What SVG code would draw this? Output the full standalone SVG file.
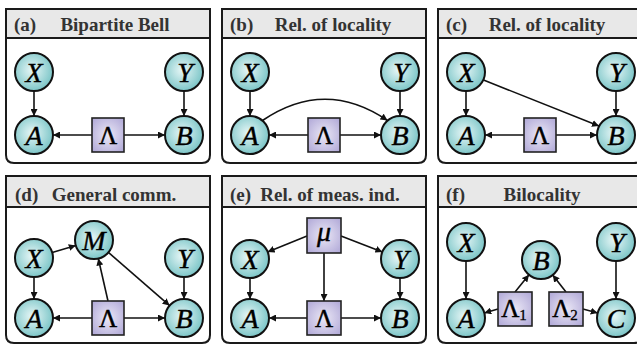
<svg xmlns="http://www.w3.org/2000/svg" width="637" height="345" viewBox="0 0 637 345">
<defs>
<radialGradient id="gc" cx="0.45" cy="0.45" r="0.6">
<stop offset="0" stop-color="#e8f7f7"/>
<stop offset="1" stop-color="#74c2c4"/>
</radialGradient>
<radialGradient id="gb" cx="0.5" cy="0.5" r="0.7">
<stop offset="0" stop-color="#ebe8f6"/>
<stop offset="1" stop-color="#aea6d6"/>
</radialGradient>
<marker id="ah" viewBox="0 0 10 10" refX="10" refY="5" markerWidth="7" markerHeight="7" markerUnits="userSpaceOnUse" orient="auto">
<path d="M0,0 L10,5 L0,10 z" fill="#111"/>
</marker>
</defs>
<style>
.panel{fill:#fff;stroke:#1a1a1a;stroke-width:2}
.hdr{fill:#e8e8e8;stroke:#1a1a1a;stroke-width:2}
.lab{font-family:"Liberation Serif",serif;font-weight:bold;font-size:19px;fill:#333}
.ttl{font-family:"Liberation Serif",serif;font-weight:bold;font-size:19px;fill:#333;text-anchor:middle}
.n circle{fill:url(#gc);stroke:#111;stroke-width:2}
.n rect{fill:url(#gb);stroke:#222;stroke-width:1.6}
.v{font-family:"Liberation Serif",serif;font-style:italic;font-size:28px;fill:#000;stroke:#000;stroke-width:0.4;text-anchor:middle}
.g{font-family:"Liberation Serif",serif;font-size:25px;fill:#000;stroke:#000;stroke-width:0.5;text-anchor:middle}
.e line,.e path{stroke:#111;stroke-width:1.6;fill:none;marker-end:url(#ah)}
</style>

<!-- Panels -->
<g id="panel-a">
<path class="panel" d="M6,9 H210 V155 Q210,163 202,163 H14 Q6,163 6,155 Z"/>
<rect class="hdr" x="6" y="9" width="204" height="29"/>
<text class="lab" x="14" y="31">(a)</text>
<text class="ttl" x="115" y="31">Bipartite Bell</text>
</g>
<g id="panel-b">
<path class="panel" d="M222,9 H426 V155 Q426,163 418,163 H230 Q222,163 222,155 Z"/>
<rect class="hdr" x="222" y="9" width="204" height="29"/>
<text class="lab" x="230" y="31">(b)</text>
<text class="ttl" x="333" y="31">Rel. of locality</text>
</g>
<g id="panel-c">
<path class="panel" d="M438,9 H642 V155 Q642,163 634,163 H446 Q438,163 438,155 Z"/>
<rect class="hdr" x="438" y="9" width="204" height="29"/>
<text class="lab" x="446" y="31">(c)</text>
<text class="ttl" x="547" y="31">Rel. of locality</text>
</g>
<g id="panel-d">
<path class="panel" d="M6,176 H210 V335 Q210,343 202,343 H14 Q6,343 6,335 Z"/>
<rect class="hdr" x="6" y="176" width="204" height="31"/>
<text class="lab" x="15" y="201">(d)</text>
<text class="ttl" x="114" y="201">General comm.</text>
</g>
<g id="panel-e">
<path class="panel" d="M222,176 H426 V335 Q426,343 418,343 H230 Q222,343 222,335 Z"/>
<rect class="hdr" x="222" y="176" width="204" height="31"/>
<text class="lab" x="230" y="201">(e)</text>
<text class="ttl" x="330" y="201">Rel. of meas. ind.</text>
</g>
<g id="panel-f">
<path class="panel" d="M438,176 H642 V335 Q642,343 634,343 H446 Q438,343 438,335 Z"/>
<rect class="hdr" x="438" y="176" width="204" height="31"/>
<text class="lab" x="446" y="201">(f)</text>
<text class="ttl" x="542" y="201">Bilocality</text>
</g>

<!-- Connectors -->
<g id="connectors" class="e">
<!-- a -->
<line x1="34" y1="91" x2="34" y2="116"/>
<line x1="184" y1="91" x2="184" y2="116"/>
<line x1="92" y1="135" x2="53" y2="135"/>
<line x1="124" y1="135" x2="165" y2="135"/>
<!-- b -->
<line x1="250" y1="91" x2="250" y2="116"/>
<line x1="400" y1="91" x2="400" y2="116"/>
<line x1="308" y1="135" x2="269" y2="135"/>
<line x1="340" y1="135" x2="381" y2="135"/>
<path d="M262.5,120.5 Q325,78 387.5,120.5"/>
<!-- c -->
<line x1="466" y1="91" x2="466" y2="116"/>
<line x1="616" y1="91" x2="616" y2="116"/>
<line x1="524" y1="135" x2="485" y2="135"/>
<line x1="556" y1="135" x2="597" y2="135"/>
<line x1="483.5" y1="80" x2="599" y2="126"/>
<!-- d -->
<line x1="34" y1="277" x2="34" y2="299"/>
<line x1="184" y1="277" x2="184" y2="299"/>
<line x1="92" y1="318" x2="53" y2="318"/>
<line x1="124" y1="318" x2="165" y2="318"/>
<line x1="52.2" y1="252.5" x2="75.8" y2="245.5"/>
<line x1="108" y1="301" x2="98.3" y2="258.5"/>
<line x1="108.4" y1="252.4" x2="169.6" y2="305.6"/>
<!-- e -->
<line x1="250" y1="278" x2="250" y2="299"/>
<line x1="400" y1="278" x2="400" y2="299"/>
<line x1="307" y1="318" x2="269" y2="318"/>
<line x1="341" y1="318" x2="381" y2="318"/>
<line x1="307" y1="236" x2="267.6" y2="251.9"/>
<line x1="341" y1="236" x2="382.4" y2="251.9"/>
<line x1="324" y1="253" x2="324" y2="301"/>
<!-- f -->
<line x1="466" y1="261" x2="466" y2="299"/>
<line x1="616" y1="261" x2="616" y2="299"/>
<line x1="515" y1="292" x2="529" y2="274.8"/>
<line x1="566" y1="292" x2="552.7" y2="275"/>
<line x1="498" y1="309" x2="484.3" y2="312.9"/>
<line x1="583" y1="309" x2="597.7" y2="313"/>
</g>

<!-- Nodes (a) -->
<g id="a-X" class="n"><circle cx="34" cy="72" r="19"/><text class="v" x="34" y="81.5">X</text></g>
<g id="a-Y" class="n"><circle cx="184" cy="72" r="19"/><text class="v" x="185" y="81.5">Y</text></g>
<g id="a-A" class="n"><circle cx="34" cy="135" r="19"/><text class="v" x="34" y="144.5">A</text></g>
<g id="a-B" class="n"><circle cx="184" cy="135" r="19"/><text class="v" x="184" y="144.5">B</text></g>
<g id="a-L" class="n"><rect x="92" y="118" width="32" height="34"/><text class="g" x="108" y="144">Λ</text></g>
<!-- (b) -->
<g id="b-X" class="n"><circle cx="250" cy="72" r="19"/><text class="v" x="250" y="81.5">X</text></g>
<g id="b-Y" class="n"><circle cx="400" cy="72" r="19"/><text class="v" x="401" y="81.5">Y</text></g>
<g id="b-A" class="n"><circle cx="250" cy="135" r="19"/><text class="v" x="250" y="144.5">A</text></g>
<g id="b-B" class="n"><circle cx="400" cy="135" r="19"/><text class="v" x="400" y="144.5">B</text></g>
<g id="b-L" class="n"><rect x="308" y="118" width="32" height="34"/><text class="g" x="324" y="144">Λ</text></g>
<!-- (c) -->
<g id="c-X" class="n"><circle cx="466" cy="72" r="19"/><text class="v" x="466" y="81.5">X</text></g>
<g id="c-Y" class="n"><circle cx="616" cy="72" r="19"/><text class="v" x="617" y="81.5">Y</text></g>
<g id="c-A" class="n"><circle cx="466" cy="135" r="19"/><text class="v" x="466" y="144.5">A</text></g>
<g id="c-B" class="n"><circle cx="616" cy="135" r="19"/><text class="v" x="616" y="144.5">B</text></g>
<g id="c-L" class="n"><rect x="524" y="118" width="32" height="34"/><text class="g" x="540" y="144">Λ</text></g>
<!-- (d) -->
<g id="d-X" class="n"><circle cx="34" cy="258" r="19"/><text class="v" x="34" y="267.5">X</text></g>
<g id="d-M" class="n"><circle cx="94" cy="240" r="19"/><text class="v" x="94" y="249.5">M</text></g>
<g id="d-Y" class="n"><circle cx="184" cy="258" r="19"/><text class="v" x="185" y="267.5">Y</text></g>
<g id="d-A" class="n"><circle cx="34" cy="318" r="19"/><text class="v" x="34" y="327.5">A</text></g>
<g id="d-B" class="n"><circle cx="184" cy="318" r="19"/><text class="v" x="184" y="327.5">B</text></g>
<g id="d-L" class="n"><rect x="92" y="301" width="32" height="34"/><text class="g" x="108" y="327">Λ</text></g>
<!-- (e) -->
<g id="e-mu" class="n"><rect x="307" y="218" width="34" height="35"/><text class="v" x="324" y="241">μ</text></g>
<g id="e-X" class="n"><circle cx="250" cy="259" r="19"/><text class="v" x="250" y="268.5">X</text></g>
<g id="e-Y" class="n"><circle cx="400" cy="259" r="19"/><text class="v" x="401" y="268.5">Y</text></g>
<g id="e-A" class="n"><circle cx="250" cy="318" r="19"/><text class="v" x="250" y="327.5">A</text></g>
<g id="e-B" class="n"><circle cx="400" cy="318" r="19"/><text class="v" x="400" y="327.5">B</text></g>
<g id="e-L" class="n"><rect x="307" y="301" width="34" height="34"/><text class="g" x="324" y="327">Λ</text></g>
<!-- (f) -->
<g id="f-X" class="n"><circle cx="466" cy="242" r="19"/><text class="v" x="466" y="251.5">X</text></g>
<g id="f-Y" class="n"><circle cx="616" cy="242" r="19"/><text class="v" x="617" y="251.5">Y</text></g>
<g id="f-B" class="n"><circle cx="541" cy="260" r="19"/><text class="v" x="541" y="269.5">B</text></g>
<g id="f-A" class="n"><circle cx="466" cy="318" r="19"/><text class="v" x="466" y="327.5">A</text></g>
<g id="f-C" class="n"><circle cx="616" cy="318" r="19"/><text class="v" x="616" y="327.5">C</text></g>
<g id="f-L1" class="n"><rect x="498" y="292" width="34" height="34"/><text class="g" x="514" y="317">Λ<tspan font-size="15" dy="3" stroke-width="0.3">1</tspan></text></g>
<g id="f-L2" class="n"><rect x="549" y="292" width="34" height="34"/><text class="g" x="565" y="317">Λ<tspan font-size="15" dy="3" stroke-width="0.3">2</tspan></text></g>
</svg>
